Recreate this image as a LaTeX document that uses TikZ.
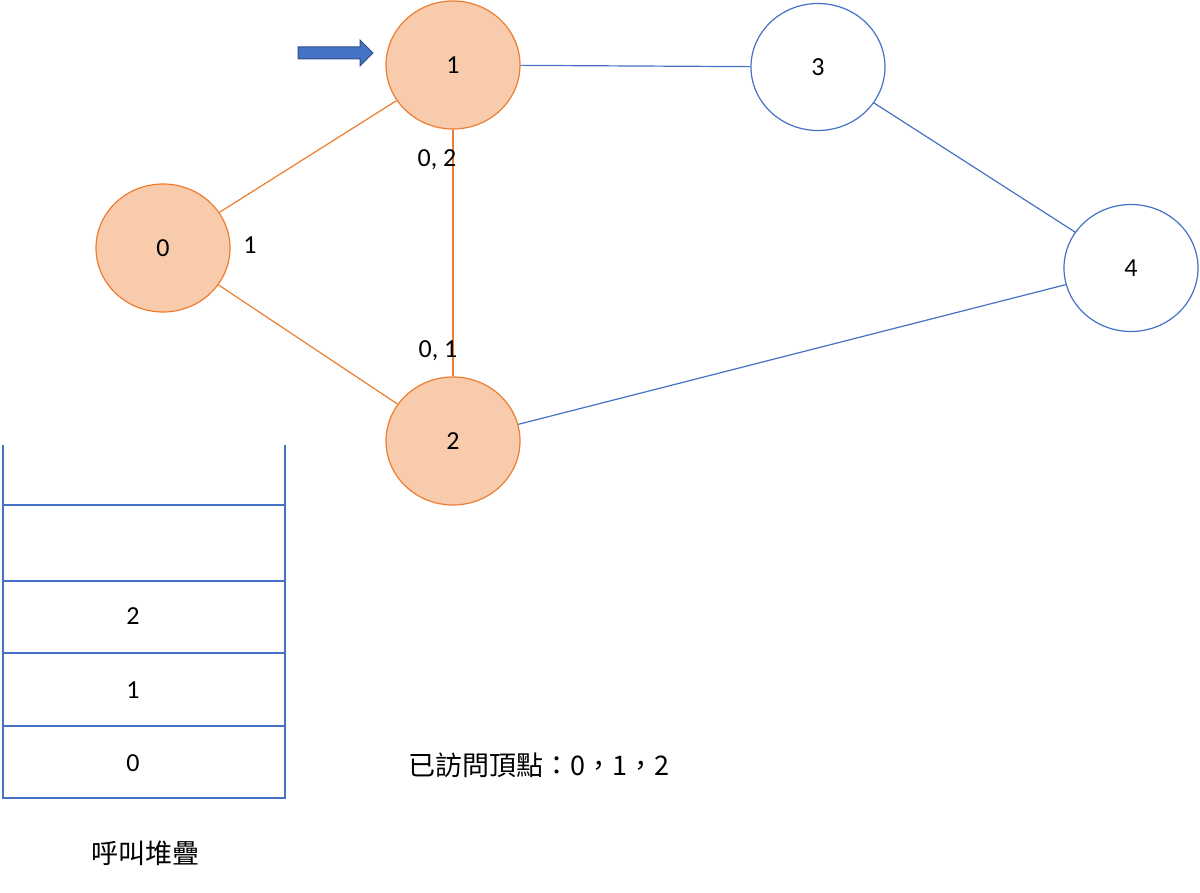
\documentclass[tikz,border=0pt]{standalone}
\usepackage{fontspec}
\setmainfont{Carlito}
\newfontfamily\cjk{Noto Sans CJK TC}
\usetikzlibrary{shapes.geometric}
\definecolor{vfill}{HTML}{F8CBAD}
\definecolor{vline}{HTML}{ED7D31}
\definecolor{bline}{HTML}{4472C4}
\begin{document}
\begin{tikzpicture}[x=1pt,y=-1pt,
  visited/.style={ellipse,draw=vline,fill=vfill,line width=1.2pt,minimum width=134pt,minimum height=128pt,font=\fontsize{26}{30}\selectfont},
  fresh/.style={ellipse,draw=bline,fill=white,line width=1.2pt,minimum width=134pt,minimum height=127pt,font=\fontsize{26}{30}\selectfont},
  oedge/.style={draw=vline,line width=1.2pt},
  bedge/.style={draw=bline,line width=1.2pt},
  lbl/.style={font=\fontsize{26}{30}\selectfont,inner sep=0pt}]
\useasboundingbox (0,0) rectangle (1200,893);
% graph
\node[visited] (n0) at (163,248) {0};
\node[visited] (n1) at (453,65) {1};
\node[visited] (n2) at (453,441) {2};
\node[fresh] (n3) at (818,67) {3};
\node[fresh] (n4) at (1131,268) {4};
\draw[oedge] (n0) -- (n1);
\draw[oedge] (n0) -- (n2);
\draw[oedge] (n1) -- (n2);
\draw[bedge] (n1) -- (n3);
\draw[bedge] (n3) -- (n4);
\draw[bedge] (n2) -- (n4);
\node[lbl] (l0) at (250,245) {1};
\node[lbl] (l1) at (437,160) {0, 2};
\node[lbl] (l2) at (438,351) {0, 1};
% pointer
\draw[fill=bline,draw=bline!70!black,line width=1pt] (298,47) -- (360,47) -- (360,40) -- (373,53) -- (360,66) -- (360,59) -- (298,59) -- cycle;
% call stack
\draw[bedge] (3,445) -- (3,798) -- (285,798) -- (285,445);
\foreach \y in {505,581,653,726}
  \draw[bedge] (3,\y) -- (285,\y);
\node[lbl] (s2) at (133,616) {2};
\node[lbl] (s1) at (133,690) {1};
\node[lbl] (s0) at (133,763) {0};
\node[lbl,font=\cjk\fontsize{27}{30}\selectfont] (cap) at (145,853) {呼叫堆疊};
\node[lbl,anchor=west,font=\cjk\fontsize{27}{30}\selectfont] (seen) at (408,765) {已訪問頂點：0，1，2};
\end{tikzpicture}
\end{document}
